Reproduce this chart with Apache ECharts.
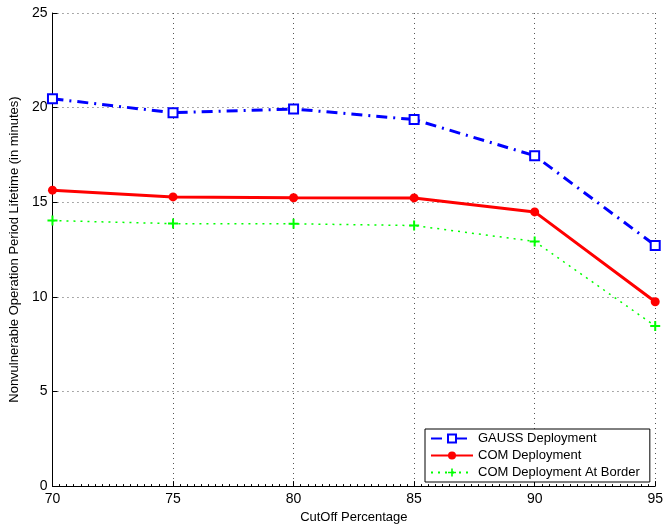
<!DOCTYPE html>
<html>
<head>
<meta charset="utf-8">
<script src="https://cdn.jsdelivr.net/npm/echarts@6/dist/echarts.min.js"></script>
<style>html,body{margin:0;padding:0;background:#fff}#c{width:666px;height:529px}</style>
</head>
<body>
<div id="c"></div>
<script>
var cutoffs = [70, 75, 80, 85, 90, 95];
var gaussValues = [20.47, 19.73, 19.93, 19.37, 17.46, 12.72];
var comValues = [15.64, 15.28, 15.24, 15.23, 14.49, 9.74];
var borderValues = [14.03, 13.87, 13.86, 13.77, 12.93, 8.46];
var seriesNames = ['GAUSS Deployment', 'COM Deployment', 'COM Deployment At Border'];
var xTitle = 'CutOff Percentage';
var yTitle = 'Nonvulnerable Operation Period Lifetime (in minutes)';

function pairs(vals){ return cutoffs.map(function(x,i){ return [x, vals[i]]; }); }
var font = 'Liberation Sans, Arial, sans-serif';
var chart = echarts.init(document.getElementById('c'));
chart.setOption({
  animation: false,
  backgroundColor: '#fff',
  grid: {left: 52, right: 9, top: 13, bottom: 40, containLabel: false},
  xAxis: {
    type: 'value', min: 70, max: 95, interval: 5,
    name: xTitle, nameLocation: 'middle', nameGap: 23,
    nameTextStyle: {fontFamily: font, fontSize: 13, color: '#000'},
    axisLine: {lineStyle: {color: '#000', width: 1}},
    axisTick: {inside: true, length: 5, lineStyle: {color: '#000'}},
    minorTick: {show: true, splitNumber: 17, length: 2, lineStyle: {color: '#000'}},
    axisLabel: {fontFamily: font, fontSize: 14, color: '#000', margin: 6},
    splitLine: {show: true, lineStyle: {color: '#555', type: [1, 4], width: 1}}
  },
  yAxis: {
    type: 'value', min: 0, max: 25, interval: 5,
    name: yTitle, nameLocation: 'middle', nameGap: 27,
    nameTextStyle: {fontFamily: font, fontSize: 13, color: '#000'},
    axisLine: {show: true, lineStyle: {color: '#000', width: 1}},
    axisTick: {show: true, inside: true, length: 5, lineStyle: {color: '#000'}},
    axisLabel: {fontFamily: font, fontSize: 14, color: '#000', margin: 5},
    splitLine: {show: true, lineStyle: {color: '#555', type: [1, 4], width: 1}}
  },
  legend: {
    left: 425, top: 429, orient: 'vertical',
    borderColor: '#000', borderWidth: 1, backgroundColor: '#fff',
    padding: [3, 10, 3, 5], itemGap: 4, itemWidth: 42, itemHeight: 10,
    textStyle: {fontFamily: font, fontSize: 13, color: '#000'},
    data: seriesNames
  },
  series: [
    {
      name: seriesNames[0], type: 'line', data: pairs(gaussValues),
      symbol: 'rect', symbolSize: 9, color: '#0000ff',
      itemStyle: {color: '#fff', borderColor: '#0000ff', borderWidth: 2},
      lineStyle: {color: '#0000ff', width: 3, type: [11, 6, 2, 6]}, z: 3
    },
    {
      name: seriesNames[1], type: 'line', data: pairs(comValues),
      symbol: 'circle', symbolSize: 9, color: '#ff0000',
      itemStyle: {color: '#ff0000'},
      lineStyle: {color: '#ff0000', width: 3, type: 'solid'}, z: 2
    },
    {
      name: seriesNames[2], type: 'line', data: pairs(borderValues),
      symbol: 'path://M4,0H6V4H10V6H6V10H4V6H0V4H4Z', symbolSize: 10, color: '#00ff00',
      itemStyle: {color: '#00ff00'},
      lineStyle: {color: '#00ff00', width: 1.5, type: [2, 5]}, z: 1
    }
  ]
});
</script>
</body>
</html>
